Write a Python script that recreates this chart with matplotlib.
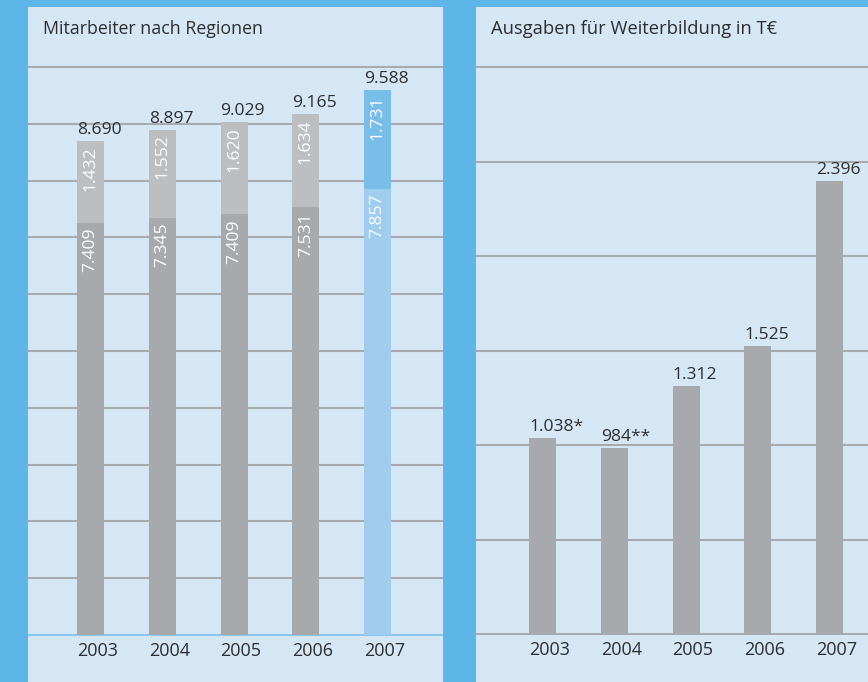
import numpy as np
import matplotlib.pyplot as plt

plt.rcParams['font.family'] = ['Open Sans', 'DejaVu Sans']

years = ['2003', '2004', '2005', '2006', '2007']

# Mitarbeiter nach Regionen
totals = [8690, 8897, 9029, 9165, 9588]
upper = [1432, 1552, 1620, 1634, 1731]
lower_labels = ['7.409', '7.345', '7.409', '7.531', '7.857']
upper_labels = ['1.432', '1.552', '1.620', '1.634', '1.731']
total_labels = ['8.690', '8.897', '9.029', '9.165', '9.588']

# Ausgaben fuer Weiterbildung in T€
spend = [1038, 984, 1312, 1525, 2396]
spend_labels = ['1.038*', '984**', '1.312', '1.525', '2.396']

outer_bg = '#5db6e7'
panel_bg = '#d5e6f5'
grid_col = '#a9aaae'
text_col = '#2e2e2e'
gray_low = '#a8a9ad'
gray_up = '#bdbec0'
blue_low = '#a0cced'
blue_up = '#79bde9'

W, H = 868, 682
fig = plt.figure(figsize=(W / 100, H / 100), dpi=100)
fig.patch.set_facecolor(outer_bg)


def make_axes(x0, x1, y_top=7):
    ax = fig.add_axes([x0 / W, 0, (x1 - x0) / W, (H - y_top) / H])
    ax.set_facecolor(panel_bg)
    for s in ax.spines.values():
        s.set_visible(False)
    ax.set_xticks([])
    ax.set_yticks([])
    return ax


x = np.arange(len(years))
unit_x = 71.75
bw = 27 / unit_x
left_edge = x - bw / 2

# ---- left panel ----
ax1 = make_axes(28, 443)
base1, top1 = 635, 67
ppu1 = (base1 - top1) / 10000
ax1.set_ylim(-(H - base1) / ppu1, (base1 - 7) / ppu1)
ax1.set_xlim((28 - 90.5) / unit_x, (443 - 90.5) / unit_x)
for g in range(1000, 10001, 1000):
    ax1.axhline(g, color=grid_col, lw=1.5, zorder=1)
ax1.axhline(0, color='#8cc6ee', lw=1.5, zorder=1)

lower = np.array(totals) - np.array(upper)
low_cols = [gray_low] * 4 + [blue_low]
up_cols = [gray_up] * 4 + [blue_up]
ax1.bar(x, lower, bw, color=low_cols, zorder=2)
ax1.bar(x, upper, bw, bottom=lower, color=up_cols, zorder=2)

off1 = 5 / ppu1
for i in range(len(years)):
    ax1.text(left_edge[i], totals[i] + off1 * 0.6, total_labels[i], ha='left', va='bottom',
             fontsize=12.6, color=text_col, zorder=3)
    ax1.text(x[i], totals[i] - off1, upper_labels[i], ha='center', va='top',
             rotation=90, fontsize=12.6, color='white', zorder=3)
    ax1.text(x[i], lower[i] - off1, lower_labels[i], ha='center', va='top',
             rotation=90, fontsize=12.6, color='white', zorder=3)
    ax1.text(left_edge[i], -16 / ppu1, years[i], ha='left', va='center',
             fontsize=13, color=text_col)
ax1.text((43 - 28) / 415, (H - 29) / (H - 7), 'Mitarbeiter nach Regionen',
         transform=ax1.transAxes, ha='left', va='center', fontsize=12.8, color=text_col)

# ---- right panel ----
ax2 = make_axes(476, 868)
base2, top2 = 634, 67
ppu2 = (base2 - top2) / 3000
ax2.set_ylim(-(H - base2) / ppu2, (base2 - 7) / ppu2)
ax2.set_xlim((476 - 542.5) / unit_x, (868 - 542.5) / unit_x)
for g in range(0, 3001, 500):
    ax2.axhline(g, color=grid_col, lw=1.5, zorder=1)
ax2.bar(x, spend, bw, color=gray_low, zorder=2)

off2 = 5 / ppu2
for i in range(len(years)):
    ax2.text(left_edge[i], spend[i] + off2 * 0.6, spend_labels[i], ha='left', va='bottom',
             fontsize=12.6, color=text_col, zorder=3)
    ax2.text(left_edge[i], -16 / ppu2, years[i], ha='left', va='center',
             fontsize=13, color=text_col)
ax2.text((491 - 476) / 392, (H - 29) / (H - 7), 'Ausgaben für Weiterbildung in T€',
         transform=ax2.transAxes, ha='left', va='center', fontsize=13.2, color=text_col)

fig.savefig('out.png', dpi=100, facecolor=outer_bg)
